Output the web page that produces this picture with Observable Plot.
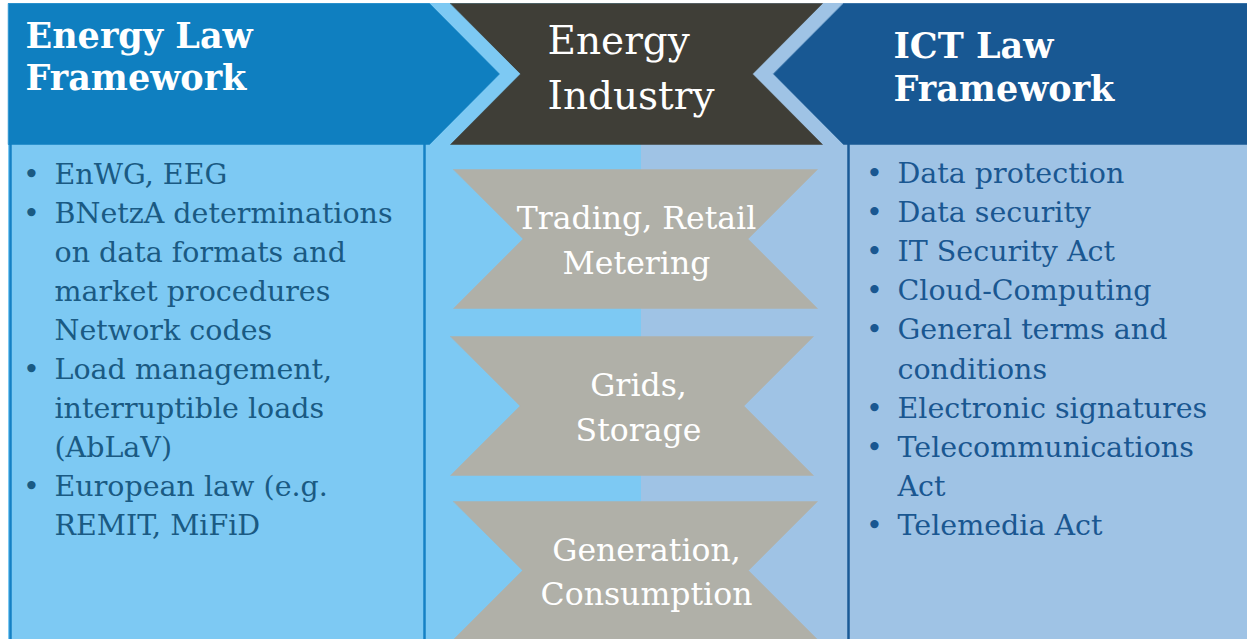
<!DOCTYPE html>
<html>
<head>
<meta charset="utf-8">
<script src="https://cdn.jsdelivr.net/npm/d3@7"></script>
<script src="https://cdn.jsdelivr.net/npm/@observablehq/plot@0.6"></script>
<style>
  html, body { margin: 0; padding: 0; background: #ffffff; overflow: hidden; }
  #chart svg { display: block; }
</style>
</head>
<body>
<div id="chart"></div>
<script>
// ---------- Data ----------
const headerTitles = ["Energy Law\nFramework", "Energy\nIndustry", "ICT Law\nFramework"];
const valueChainStages = ["Trading, Retail\nMetering", "Grids,\nStorage", "Generation,\nConsumption"];
const energyLawItems = [
  "EnWG, EEG",
  "BNetzA determinations\non data formats and\nmarket procedures\nNetwork codes",
  "Load management,\ninterruptible loads\n(AbLaV)",
  "European law (e.g.\nREMIT, MiFiD"
];
const ictLawItems = [
  "Data protection",
  "Data security",
  "IT Security Act",
  "Cloud-Computing",
  "General terms and\nconditions",
  "Electronic signatures",
  "Telecommunications\nAct",
  "Telemedia Act"
];

// ---------- Layout (pixel space of the diagram) ----------
const W = 1247, H = 639;
const L = {
  top: 3, headerBottom: 144, notch: 70,
  panelLeft: 8, split: 641,
  leftHeaderRight: 429, centerLeft: 450, centerRight: 822, rightHeaderLeft: 843,
  stages: [
    {top: 169, bottom: 308, left: 453, right: 817, cx: 636},
    {top: 336, bottom: 475, left: 450, right: 813, cx: 638},
    {top: 501, bottom: 639, left: 453, right: 817, cx: 646}
  ],
  leftList: {bulletX: 31, textX: 54, firstBaseline: 183, lineStep: 39.1},
  rightList: {bulletX: 874, textX: 897, firstBaseline: 182, lineStep: 39.2}
};
const C = {
  leftLight: "#7dc9f3", rightLight: "#9fc3e5",
  leftHeader: "#0f7fc0", rightHeader: "#185893", center: "#3f3e37",
  stage: "#b0b0a8", leftBorder: "#1580c4", rightBorder: "#1a5a96",
  leftText: "#1a5a83", rightText: "#1a5791", white: "#ffffff"
};
const SERIF = "Georgia, 'DejaVu Serif', serif";

// ---------- Geometry derived from layout ----------
const mid = (L.top + L.headerBottom) / 2;
const leftHeaderPoly = [
  [L.panelLeft, L.top], [L.leftHeaderRight, L.top], [L.leftHeaderRight + L.notch, mid],
  [L.leftHeaderRight, L.headerBottom], [L.panelLeft, L.headerBottom]
];
const centerHeaderPoly = [
  [L.centerLeft, L.top], [L.centerRight, L.top], [L.centerRight - L.notch, mid],
  [L.centerRight, L.headerBottom], [L.centerLeft, L.headerBottom], [L.centerLeft + L.notch, mid]
];
const rightHeaderPoly = [
  [L.rightHeaderLeft, L.top], [W, L.top], [W, L.headerBottom],
  [L.rightHeaderLeft, L.headerBottom], [L.rightHeaderLeft - L.notch, mid]
];
const stagePolys = L.stages.map(s => {
  const m = (s.top + s.bottom) / 2, n = (s.bottom - s.top) / 2;
  return [[s.left, s.top], [s.right, s.top], [s.right - n, m], [s.right, s.bottom],
          [s.left, s.bottom], [s.left + n, m]];
});

const bands = [
  {x1: L.panelLeft, x2: L.split, y1: L.top, y2: H, fill: C.leftLight},
  {x1: L.split, x2: W, y1: L.top, y2: H, fill: C.rightLight}
];
const borders = [
  {x: 10, stroke: C.leftBorder},
  {x: 424, stroke: C.leftBorder},
  {x: 848, stroke: C.rightBorder}
];

function listLines(items, cfg) {
  const out = [];
  let i = 0;
  items.forEach(item => {
    item.split("\n").forEach((line, j) => {
      out.push({text: line, bullet: j === 0, y: cfg.firstBaseline + i * cfg.lineStep, x: cfg.textX, bx: cfg.bulletX});
      i++;
    });
  });
  return out;
}
const leftLines = listLines(energyLawItems, L.leftList);
const rightLines = listLines(ictLawItems, L.rightList);

const headerText = [
  ...headerTitles[0].split("\n").map((t, i) => ({text: t, x: 25, y: 47 + i * 42})),
  ...headerTitles[2].split("\n").map((t, i) => ({text: t, x: 893, y: 57 + i * 43}))
];
const centerTitle = headerTitles[1].split("\n").map((t, i) => ({text: t, x: 547, y: 53 + i * 55}));

const stageText = [];
valueChainStages.forEach((label, k) => {
  const s = L.stages[k], m = (s.top + s.bottom) / 2;
  label.split("\n").forEach((t, i) => stageText.push({text: t, x: s.cx, y: m - 10 + i * 44.5}));
});

const poly = (pts, fill) => Plot.line(pts, {x: d => d[0], y: d => d[1], fill, stroke: fill, strokeWidth: 0.5, curve: "linear-closed"});

const chart = Plot.plot({
  width: W, height: H,
  margin: 0,
  style: {background: "#ffffff"},
  x: {domain: [0, W], range: [0, W], axis: null},
  y: {domain: [0, H], range: [0, H], axis: null},
  color: {type: "identity"},
  marks: [
    Plot.rect(bands, {x1: "x1", x2: "x2", y1: "y1", y2: "y2", fill: "fill"}),
    Plot.ruleX(borders, {x: "x", y1: L.headerBottom, y2: H, stroke: "stroke", strokeWidth: 2.5}),
    poly(leftHeaderPoly, C.leftHeader),
    poly(centerHeaderPoly, C.center),
    poly(rightHeaderPoly, C.rightHeader),
    ...stagePolys.map(p => poly(p, C.stage)),
    Plot.text(headerText, {x: "x", y: "y", text: "text", fill: C.white, fontSize: 35, fontWeight: "bold",
      fontFamily: SERIF, textAnchor: "start", lineAnchor: "bottom"}),
    Plot.text(centerTitle, {x: "x", y: "y", text: "text", fill: C.white, fontSize: 39,
      fontFamily: SERIF, textAnchor: "start", lineAnchor: "bottom"}),
    Plot.text(stageText, {x: "x", y: "y", text: "text", fill: C.white, fontSize: 31.5,
      fontFamily: SERIF, textAnchor: "middle", lineAnchor: "bottom"}),
    Plot.text(leftLines.filter(d => d.bullet), {x: "bx", y: "y", text: () => "•", fill: C.leftText, fontSize: 28.5,
      fontFamily: SERIF, textAnchor: "middle", lineAnchor: "bottom"}),
    Plot.text(leftLines, {x: "x", y: "y", text: "text", fill: C.leftText, fontSize: 28.5,
      fontFamily: SERIF, textAnchor: "start", lineAnchor: "bottom"}),
    Plot.text(rightLines.filter(d => d.bullet), {x: "bx", y: "y", text: () => "•", fill: C.rightText, fontSize: 28.5,
      fontFamily: SERIF, textAnchor: "middle", lineAnchor: "bottom"}),
    Plot.text(rightLines, {x: "x", y: "y", text: "text", fill: C.rightText, fontSize: 28.5,
      fontFamily: SERIF, textAnchor: "start", lineAnchor: "bottom"})
  ]
});
document.getElementById("chart").appendChild(chart);
</script>
</body>
</html>
